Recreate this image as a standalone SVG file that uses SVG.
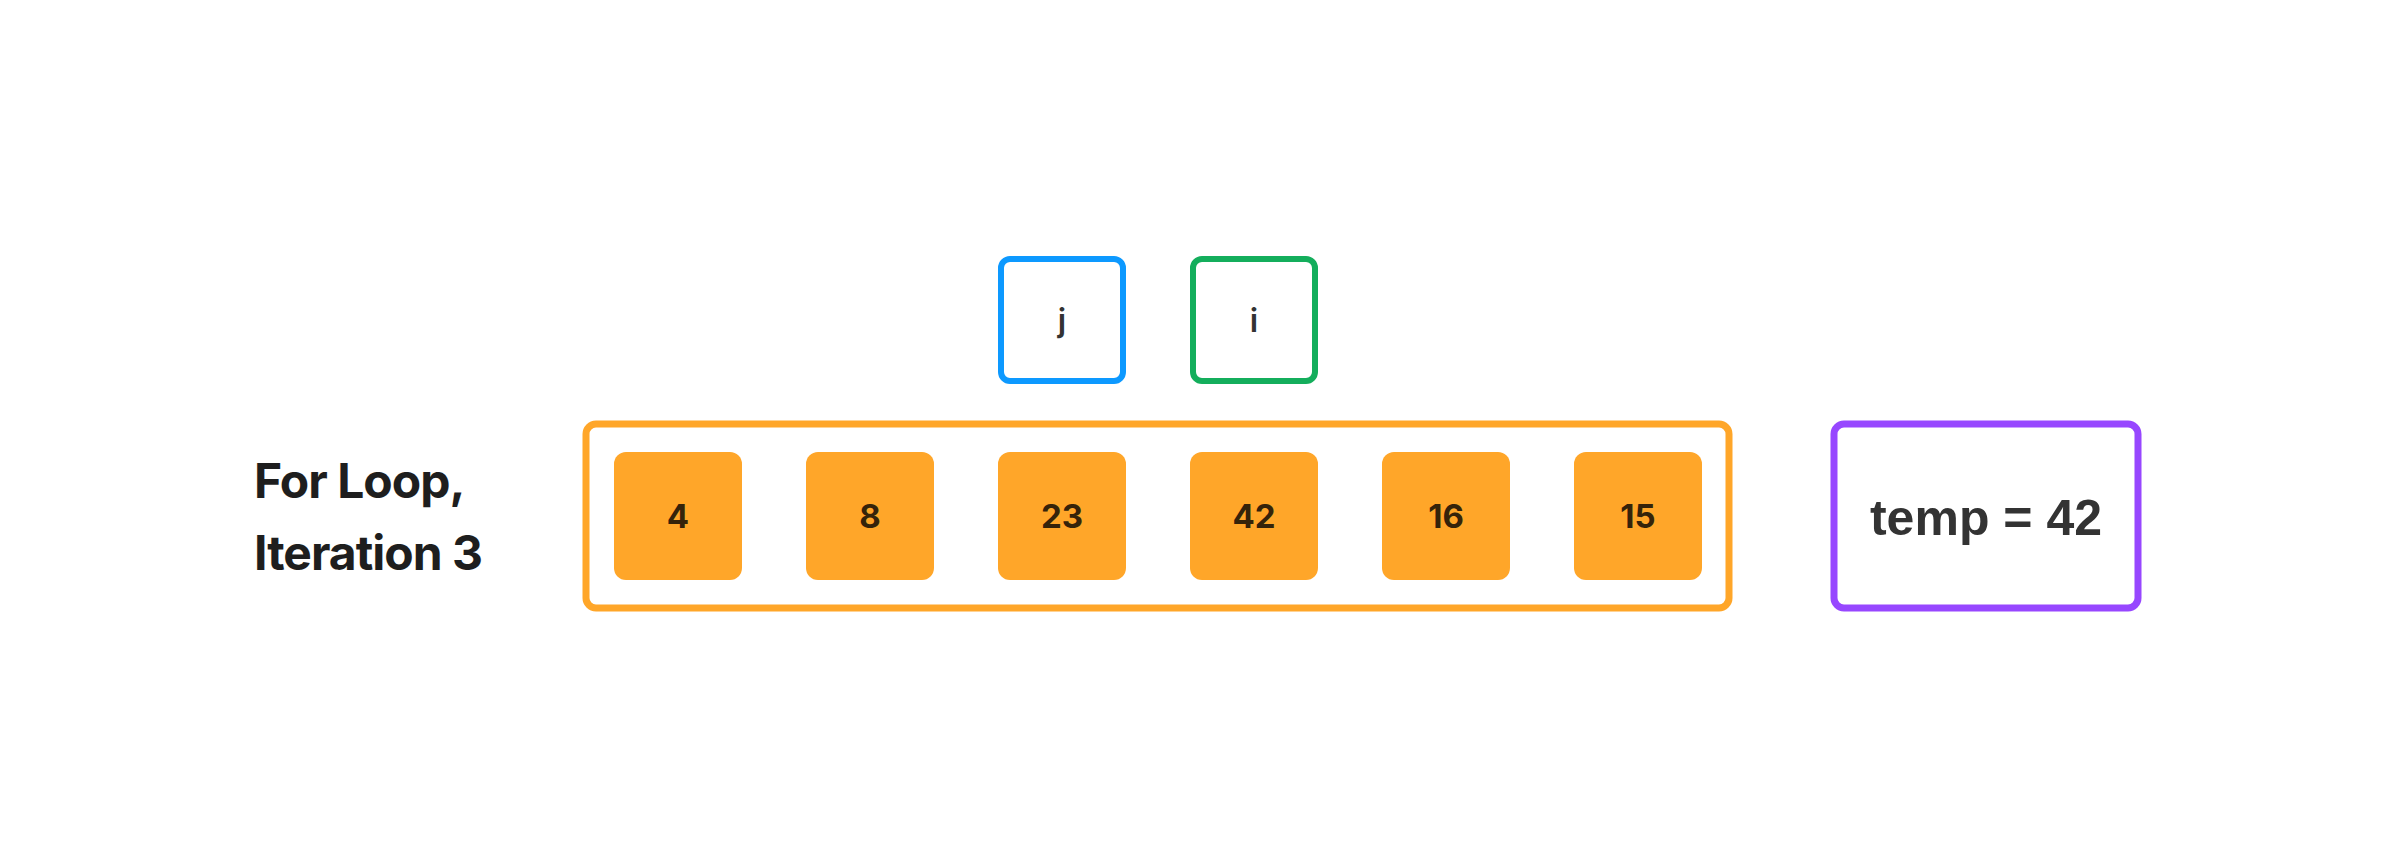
<svg xmlns="http://www.w3.org/2000/svg" width="2397" height="868" viewBox="0 0 2397 868">
<style>
.cell{fill:#FFA629;}
.num{font-family:Inter,"Liberation Sans",sans-serif;font-weight:700;font-size:33px;fill:#35230a;text-anchor:middle;}
.ptr{fill:#fff;stroke-width:6;}
.ptrt{font-family:Inter,"Liberation Sans",sans-serif;font-weight:600;font-size:32px;fill:#333;text-anchor:middle;}
.lbl{font-family:Inter,"Liberation Sans",sans-serif;font-weight:700;font-size:48px;fill:#1e1e1e;letter-spacing:-1px;}
</style>
<rect width="2397" height="868" fill="#fff"/>
<g id="label">
<text class="lbl" x="254" y="498">For Loop,</text>
<text class="lbl" x="254" y="570">Iteration 3</text>
</g>
<g id="array">
<rect x="586" y="424" width="1143" height="184" rx="10" fill="#fff" stroke="#FFA629" stroke-width="7"/>
</g>
<g id="cell-0"><rect class="cell" x="614" y="452" width="128" height="128" rx="12"/><text class="num" x="678" y="528">4</text></g>
<g id="cell-1"><rect class="cell" x="806" y="452" width="128" height="128" rx="12"/><text class="num" x="870" y="528">8</text></g>
<g id="cell-2"><rect class="cell" x="998" y="452" width="128" height="128" rx="12"/><text class="num" x="1062" y="528">23</text></g>
<g id="cell-3"><rect class="cell" x="1190" y="452" width="128" height="128" rx="12"/><text class="num" x="1254" y="528">42</text></g>
<g id="cell-4"><rect class="cell" x="1382" y="452" width="128" height="128" rx="12"/><text class="num" x="1446" y="528">16</text></g>
<g id="cell-5"><rect class="cell" x="1574" y="452" width="128" height="128" rx="12"/><text class="num" x="1638" y="528">15</text></g>
<g id="ptr-j"><rect class="ptr" x="1001" y="259" width="122" height="122" rx="9" stroke="#0D99FF"/><text class="ptrt" x="1062" y="332">j</text></g>
<g id="ptr-i"><rect class="ptr" x="1193" y="259" width="122" height="122" rx="9" stroke="#14AE5C"/><text class="ptrt" x="1254" y="332">i</text></g>
<g id="temp"><rect x="1834" y="424" width="304" height="184" rx="10" fill="#fff" stroke="#9747FF" stroke-width="7"/><text x="1986" y="535" font-family="'Liberation Sans',Arial,sans-serif" font-weight="700" font-size="50" fill="#333" text-anchor="middle">temp = 42</text></g>
<g id="connectors"></g>
</svg>
